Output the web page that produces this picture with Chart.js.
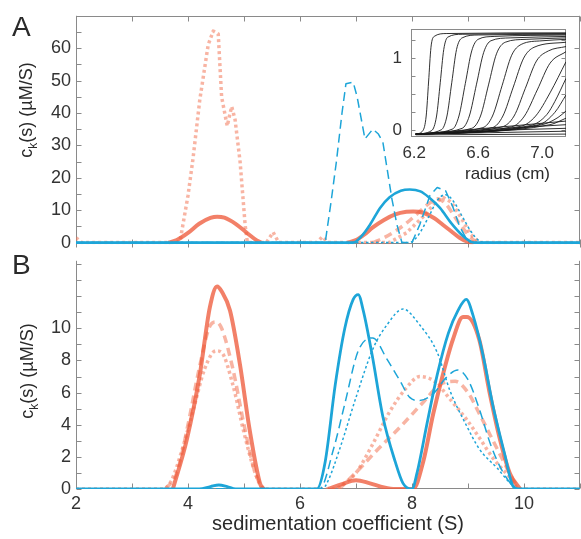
<!DOCTYPE html>
<html><head><meta charset="utf-8">
<script src="https://cdn.jsdelivr.net/npm/chart.js@4.4.1/dist/chart.umd.min.js"></script>
<style>
html,body{margin:0;padding:0;background:#fff;}
body{width:581px;height:539px;position:relative;overflow:hidden;font-family:"Liberation Sans",Arial,sans-serif;}
canvas{position:absolute;}
.lbl{position:absolute;color:#2a2a2a;font-family:"Liberation Sans",Arial,sans-serif;white-space:nowrap;line-height:1;}
.rot{transform:translate(-50%,-50%) rotate(-90deg);}
</style></head><body>
<canvas id="cA" width="581" height="260" style="left:0;top:0;width:581px;height:260px"></canvas>
<canvas id="cB" width="581" height="294" style="left:0;top:245px;width:581px;height:294px"></canvas>
<canvas id="cI" width="192" height="155" style="left:380px;top:10px;width:192px;height:155px"></canvas>
<div class="lbl" style="left:12px;top:13px;font-size:28px;">A</div>
<div class="lbl" style="left:12px;top:251px;font-size:28px;">B</div>
<div class="lbl rot" style="left:28px;top:110px;font-size:18px;">c<sub style="font-size:12px">k</sub>(s) (µM/S)</div>
<div class="lbl rot" style="left:29px;top:371px;font-size:18px;">c<sub style="font-size:12px">k</sub>(s) (µM/S)</div>
<div class="lbl" style="left:338px;top:523px;transform:translate(-50%,-50%);font-size:20px;">sedimentation coefficient (S)</div>
<div class="lbl" style="left:465px;top:165px;font-size:17px;">radius (cm)</div>
<script>
// ---------- tick labels ----------
const xTickLabels = [2, 4, 6, 8, 10];
const aYTickLabels = [0, 10, 20, 30, 40, 50, 60];
const bYTickLabels = [0, 2, 4, 6, 8, 10];
const insetXTickLabels = [6.2, 6.6, 7.0];
const insetYTickLabels = [0, 1];

// ---------- Panel A (null = gap between peaks) ----------
const aBlueSolidS  = [2, 6.95, 7.1, 7.25, 7.43, 7.6, 7.8, 7.96, 8.15, 8.3, 8.5, 8.7, 8.9, 9.05, 9.12, 11];
const aBlueSolidC  = [0, 0, 2, 5.5, 10.7, 14, 16, 16.4, 15.8, 14, 10.7, 6, 2.2, 0.3, 0, 0];
const aBlueDashS   = [2, 6.45, 6.55, 6.65, 6.75, 6.82, 6.95, 7.02, 7.16, 7.3, 7.4, 7.48, 7.55, 7.64, 7.73, 7.82, 8.0, 8.14, 8.32, 8.45, 8.6, 8.73, 8.85, 8.97, 9.05, 11];
const aBlueDashC   = [0, 0, 12, 25, 40, 49, 49.5, 45, 32, 35, 33.5, 31, 23.4, 13.6, 5.6, 0, 0, 5.6, 14.5, 17, 16, 11, 5, 1.2, 0, 0];
const aBlueDotS    = [2, 7.95, 8.1, 8.3, 8.45, 8.6, 8.75, 8.9, 9.05, 9.2, 9.3, 11];
const aBlueDotC    = [0, 0, 2, 8, 13, 14.8, 12.5, 8, 3.5, 0.5, 0, 0];
const aOrangeSolidS = [3.65, 3.8, 4.0, 4.2, 4.4, 4.52, 4.65, 4.85, 5.05, 5.2, 5.3, 6.0, 6.85, 7.0, 7.15, 7.3, 7.5, 7.7, 7.9, 8.02, 8.2, 8.4, 8.55, 8.7, 8.85, 9.0, 9.1];
const aOrangeSolidC = [0, 0.8, 3, 5.8, 7.6, 8.0, 7.7, 5.8, 3, 1, 0, null, 0, 0.8, 2.5, 4.7, 7, 8.7, 9.5, 9.6, 9.2, 7.5, 5.5, 3.5, 1.5, 0.2, 0];
const aOrangeDotS  = [2, 2.1, 3.8, 3.86, 3.91, 4.0, 4.09, 4.21, 4.36, 4.45, 4.54, 4.6, 4.7, 4.78, 4.84, 4.93, 5.02, 5.06, 5.4, 5.52, 5.62, 6.3, 6.4, 6.5, 7.6, 7.9, 8.2, 8.4, 8.55, 8.7, 8.9, 9.05, 9.2, 11];
const aOrangeDotC  = [1.5, 0, 0, 0.6, 5.6, 14.5, 26, 44, 61, 65.3, 64.4, 45, 36, 42, 38, 25, 5.5, 0, 0, 3.2, 0, 0, 1.8, 0, 0, 3, 8, 12, 14, 12.5, 7, 2.5, 0, 0];
const aOrangeDashS = [7.3, 7.5, 7.7, 7.9, 8.1, 8.3, 8.45, 8.6, 8.8, 9.0, 9.15];
const aOrangeDashC = [0, 1.5, 3.5, 6, 9, 12, 13.5, 12, 7, 2.5, 0];

// ---------- Panel B ----------
const bBlueSolidS = [2, 4.2, 4.4, 4.55, 4.7, 4.85, 6.3, 6.45, 6.63, 6.8, 6.95, 7.04, 7.13, 7.29, 7.48, 7.7, 7.84, 8.0, 8.09, 8.27, 8.45, 8.65, 8.82, 8.97, 9.09, 9.27, 9.45, 9.66, 9.8, 9.9, 11];
const bBlueSolidC = [0, 0, 0.15, 0.25, 0.15, 0, 0, 1.7, 6.5, 10, 11.8, 12.1, 11.1, 8.3, 4.5, 1.7, 0.35, 0, 1.0, 4.1, 7.1, 9.7, 11.1, 11.8, 10.8, 8.3, 5.1, 2.1, 0.2, 0, 0];
const bBlueDashS  = [2, 6.35, 6.6, 6.8, 7.04, 7.3, 7.55, 7.79, 7.96, 8.14, 8.4, 8.6, 8.82, 9.0, 9.2, 9.4, 9.6, 9.8, 9.9, 11];
const bBlueDashC  = [0, 0, 2.5, 5.3, 8.6, 9.4, 8.1, 6.7, 5.7, 5.5, 6.0, 6.9, 7.4, 6.8, 5, 2.8, 1.2, 0.2, 0, 0];
const bBlueDotS   = [2, 6.4, 6.5, 6.71, 7.0, 7.3, 7.55, 7.84, 8.14, 8.45, 8.68, 8.98, 9.2, 9.52, 9.8, 9.9, 11];
const bBlueDotC   = [0, 0, 0.5, 2.5, 5.7, 8.7, 10.2, 11.2, 10.2, 8.5, 6.1, 3.9, 2.5, 1.3, 0.2, 0, 0];
const bOrangeSolidS = [3.73, 3.98, 4.21, 4.39, 4.52, 4.6, 4.75, 4.93, 5.1, 5.29, 5.35, 6.0, 6.5, 6.75, 7.0, 7.25, 7.5, 7.7, 8.0, 8.02, 8.2, 8.38, 8.55, 8.73, 8.91, 8.98, 9.2, 9.38, 9.57, 9.75, 9.93];
const bOrangeSolidC = [0, 3.1, 7.1, 11.3, 12.6, 12.3, 11.1, 7.7, 3.7, 0.3, 0, null, 0, 0.3, 0.55, 0.35, 0.1, 0, 0, 0, 1.7, 4.7, 7.1, 9.3, 10.7, 10.7, 9.3, 6.1, 3.1, 0.95, 0];
const bOrangeDashS = [3.6, 3.8, 4.0, 4.2, 4.4, 4.5, 4.6, 4.8, 5.0, 5.2, 5.35, 6.0, 6.7, 7.02, 7.4, 7.8, 8.2, 8.5, 8.77, 9.0, 9.2, 9.52, 9.8, 9.9];
const bOrangeDashC = [0, 1, 4, 7.5, 10.2, 10.4, 10, 7.5, 4, 1, 0, null, 0, 1.1, 2.5, 3.9, 5.4, 6.5, 6.7, 6, 4.7, 2.5, 0.6, 0];
const bOrangeDotS  = [2, 3.55, 3.7, 3.9, 4.1, 4.3, 4.5, 4.6, 4.8, 5.0, 5.2, 5.35, 6.6, 6.85, 7.0, 7.3, 7.6, 7.9, 8.14, 8.4, 8.7, 8.98, 9.2, 9.45, 9.8, 9.9, 11];
const bOrangeDotC  = [0, 0, 0.5, 2.5, 5, 7.5, 8.6, 8.5, 6.5, 3.5, 1, 0, 0, 0.5, 1, 2.8, 4.8, 6.3, 7.0, 6.7, 5.5, 4.3, 3.2, 1.9, 0.5, 0, 0];

// ---------- Inset: absorbance scans (radius cm, signal) ----------
const insetRadius = [
  [6.21, 6.255, 6.275, 6.29, 6.305, 6.325, 6.4, 7.15],
  [6.21, 6.31, 6.34, 6.363, 6.385, 6.41, 6.5, 7.15],
  [6.21, 6.37, 6.405, 6.435, 6.465, 6.5, 6.6, 7.15],
  [6.21, 6.44, 6.48, 6.52, 6.56, 6.6, 6.7, 7.15],
  [6.21, 6.5, 6.545, 6.59, 6.635, 6.68, 6.8, 7.15],
  [6.21, 6.56, 6.615, 6.665, 6.715, 6.77, 6.9, 7.15],
  [6.21, 6.63, 6.69, 6.75, 6.81, 6.87, 7.0, 7.15],
  [6.21, 6.69, 6.755, 6.82, 6.885, 6.95, 7.15],
  [6.21, 6.75, 6.825, 6.895, 6.965, 7.04, 7.15],
  [6.21, 6.81, 6.89, 6.97, 7.05, 7.15],
  [6.21, 6.87, 6.96, 7.05, 7.15],
  [6.21, 6.93, 7.03, 7.08, 7.15],
  [6.21, 6.98, 7.08, 7.15],
  [6.21, 7.0, 7.1, 7.15],
  [6.21, 7.05, 7.15],
  [6.21, 6.7, 7.15],
  [6.21, 6.7, 7.15],
  [6.21, 6.7, 7.15],
  [6.21, 7.15],
  [6.21, 7.15]
];
const insetSignal = [
  [-0.05, 0.0, 0.2, 0.67, 1.15, 1.3, 1.34, 1.35],
  [-0.05, 0.0, 0.2, 0.66, 1.12, 1.29, 1.33, 1.34],
  [-0.05, 0.01, 0.2, 0.66, 1.12, 1.28, 1.32, 1.33],
  [-0.05, 0.02, 0.2, 0.65, 1.1, 1.26, 1.3, 1.32],
  [-0.05, 0.03, 0.2, 0.64, 1.08, 1.24, 1.28, 1.3],
  [-0.05, 0.03, 0.2, 0.63, 1.06, 1.22, 1.26, 1.28],
  [-0.05, 0.04, 0.2, 0.62, 1.04, 1.19, 1.24, 1.26],
  [-0.05, 0.04, 0.2, 0.6, 1.0, 1.15, 1.22],
  [-0.05, 0.05, 0.2, 0.58, 0.96, 1.1, 1.16],
  [-0.05, 0.05, 0.2, 0.56, 0.93, 1.09],
  [-0.05, 0.06, 0.2, 0.52, 0.95],
  [-0.05, 0.07, 0.22, 0.4, 0.72],
  [-0.05, 0.08, 0.25, 0.49],
  [-0.05, 0.08, 0.18, 0.27],
  [-0.05, 0.08, 0.17],
  [-0.05, 0.04, 0.13],
  [-0.05, 0.02, 0.08],
  [-0.05, 0.0, 0.03],
  [-0.05, -0.01],
  [-0.06, -0.05]
];

const BLUE = '#1da5d8';
const OR_SOLID = 'rgba(238,92,62,0.78)';
const OR_LIGHT = 'rgba(242,118,88,0.55)';
const FRAME = '#8a8a8a';
const TICKCOL = '#333';
const FONT = '"Liberation Sans", Arial, sans-serif';

function pts(s, c) { return s.map((v, i) => ({x: v, y: c[i]})); }
function line(s, c, color, width, dash, smooth, order) {
  return {data: pts(s, c), borderColor: color, borderWidth: width, borderDash: dash || [],
    pointRadius: 0, fill: false, tension: 0, spanGaps: false, order: order,
    cubicInterpolationMode: smooth ? 'monotone' : 'default', borderCapStyle: 'butt', borderJoinStyle: 'round'};
}

const framePlugin = {
  id: 'frame',
  beforeDraw(chart, args, o) {
    if (o.bg) {
      const a = chart.chartArea, ctx = chart.ctx;
      ctx.save(); ctx.fillStyle = '#fff';
      ctx.fillRect(a.left, a.top, a.right - a.left, a.bottom - a.top); ctx.restore();
    }
  },
  beforeDatasetsDraw(chart, args, o) {
    const {ctx, chartArea: a, scales: {x, y}} = chart;
    ctx.save();
    ctx.strokeStyle = o.color; ctx.lineWidth = 1;
    ctx.beginPath();
    const L = Math.round(a.left) + 0.5, R = Math.round(a.right) - 0.5;
    const T = Math.round(a.top) + 0.5, B = Math.round(a.bottom) - 0.5;
    if (o.sides.includes('l')) { ctx.moveTo(L, a.top); ctx.lineTo(L, a.bottom); }
    if (o.sides.includes('r')) { ctx.moveTo(R, a.top); ctx.lineTo(R, a.bottom); }
    if (o.sides.includes('t')) { ctx.moveTo(a.left, T); ctx.lineTo(a.right, T); }
    if (o.sides.includes('b')) { ctx.moveTo(a.left, B); ctx.lineTo(a.right, B); }
    const tl = o.len || 5;
    (o.yLeft || []).forEach(v => { const p = Math.round(y.getPixelForValue(v)) + 0.5; ctx.moveTo(L, p); ctx.lineTo(L + tl, p); });
    (o.yRight || []).forEach(v => { const p = Math.round(y.getPixelForValue(v)) + 0.5; ctx.moveTo(R, p); ctx.lineTo(R - tl, p); });
    (o.xTop || []).forEach(v => { const p = Math.round(x.getPixelForValue(v)) + 0.5; ctx.moveTo(p, T); ctx.lineTo(p, T + tl); });
    (o.xBottom || []).forEach(v => { const p = Math.round(x.getPixelForValue(v)) + 0.5; ctx.moveTo(p, B); ctx.lineTo(p, B - tl); });
    if (o.zero) {
      const z = Math.round(y.getPixelForValue(0)) + 0.5;
      ctx.moveTo(a.left, z); ctx.lineTo(a.right, z);
      (o.xZero || []).forEach(v => { const p = Math.round(x.getPixelForValue(v)) + 0.5; ctx.moveTo(p, z - 4); ctx.lineTo(p, z + 4); });
    }
    ctx.stroke();
    ctx.restore();
  }
};

function range(a, b, st) { const r = []; for (let v = a; v <= b + 1e-9; v += st) r.push(+v.toFixed(4)); return r; }
const intX = range(2, 11, 1);

function yAxis(min, max, labels, width, pad, size) {
  return {type: 'linear', min, max,
    afterFit: s => { s.width = width; },
    afterBuildTicks: s => { s.ticks = labels.map(v => ({value: v})); },
    grid: {display: false, drawTicks: false}, border: {display: false},
    ticks: {padding: pad, color: TICKCOL, font: {family: FONT, size: size}, autoSkip: false}};
}

const common = {responsive: false, animation: false, devicePixelRatio: 1,
  plugins: {legend: {display: false}, tooltip: {enabled: false}}, events: []};

// Panel A (lower order = drawn on top: blue over orange)
new Chart(document.getElementById('cA'), {
  type: 'line',
  data: {datasets: [
    line(aBlueSolidS, aBlueSolidC, BLUE, 2.6, null, true, 0),
    line(aBlueDashS, aBlueDashC, BLUE, 1.5, [9, 5], false, 1),
    line(aBlueDotS, aBlueDotC, BLUE, 1.5, [2.5, 2.5], true, 2),
    line(aOrangeSolidS, aOrangeSolidC, OR_SOLID, 4, null, true, 3),
    line(aOrangeDashS, aOrangeDashC, OR_LIGHT, 3.5, [8, 5], true, 4),
    line(aOrangeDotS, aOrangeDotC, OR_LIGHT, 3.5, [3, 3], false, 5)
  ]},
  options: Object.assign({}, common, {
    layout: {padding: {left: 0, top: 14, right: 1, bottom: 9.3}},
    scales: {
      x: {type: 'linear', min: 2, max: 11, display: false},
      y: yAxis(-0.5, 70, aYTickLabels, 76, 5, 18)
    },
    plugins: Object.assign({}, common.plugins, {frame: {color: FRAME, sides: 'lrt', zero: true,
      yLeft: range(0, 65, 5), yRight: range(0, 60, 10), xTop: intX, xZero: intX}})
  }),
  plugins: [framePlugin]
});

// Panel B
new Chart(document.getElementById('cB'), {
  type: 'line',
  data: {datasets: [
    line(bBlueSolidS, bBlueSolidC, BLUE, 2.8, null, true, 0),
    line(bBlueDashS, bBlueDashC, BLUE, 1.5, [9, 5], true, 1),
    line(bBlueDotS, bBlueDotC, BLUE, 1.5, [2.5, 2.5], true, 2),
    line(bOrangeSolidS, bOrangeSolidC, OR_SOLID, 4, null, true, 3),
    line(bOrangeDashS, bOrangeDashC, OR_LIGHT, 3.5, [8, 5], true, 4),
    line(bOrangeDotS, bOrangeDotC, OR_LIGHT, 3.5, [3, 3], true, 5)
  ]},
  options: Object.assign({}, common, {
    layout: {padding: {left: 0, top: 5.5, right: 1, bottom: 0}},
    scales: {
      x: {type: 'linear', min: 2, max: 11,
        afterFit: s => { s.height = 50; },
        afterBuildTicks: s => { s.ticks = xTickLabels.map(v => ({value: v})); },
        grid: {display: false, drawTicks: false}, border: {display: false},
        ticks: {padding: 4, color: TICKCOL, font: {family: FONT, size: 18}, maxRotation: 0, autoSkip: false}},
      y: yAxis(0, 14.2, bYTickLabels, 76, 5, 18)
    },
    plugins: Object.assign({}, common.plugins, {frame: {color: FRAME, sides: 'lrb',
      yLeft: range(0, 14, 1), yRight: range(0, 14, 1), xBottom: intX}})
  }),
  plugins: [framePlugin]
});

// Inset
const insetSets = insetRadius.map((r, i) => ({data: pts(r, insetSignal[i]), borderColor: '#1a1a1a', borderWidth: 0.9,
  pointRadius: 0, fill: false, cubicInterpolationMode: 'monotone'}));
new Chart(document.getElementById('cI'), {
  type: 'line',
  data: {datasets: insetSets},
  options: Object.assign({}, common, {
    layout: {padding: {left: 0, top: 7, right: 6, bottom: 0}},
    scales: {
      x: {type: 'linear', min: 6.18, max: 7.15,
        afterFit: s => { s.height = 28; },
        afterBuildTicks: s => { s.ticks = insetXTickLabels.map(v => ({value: v})); },
        grid: {display: false, drawTicks: false}, border: {display: false},
        ticks: {padding: 6, color: TICKCOL, font: {family: FONT, size: 17}, maxRotation: 0, autoSkip: false,
          callback: v => v.toFixed(1)}},
      y: yAxis(-0.09, 1.4, insetYTickLabels, 31, 9, 17)
    },
    plugins: Object.assign({}, common.plugins, {frame: {color: FRAME, sides: 'lrtb', bg: true, len: 4,
      yLeft: range(0, 1.25, 0.25), yRight: range(0, 1.25, 0.25)}})
  }),
  plugins: [framePlugin]
});
</script>
</body></html>
